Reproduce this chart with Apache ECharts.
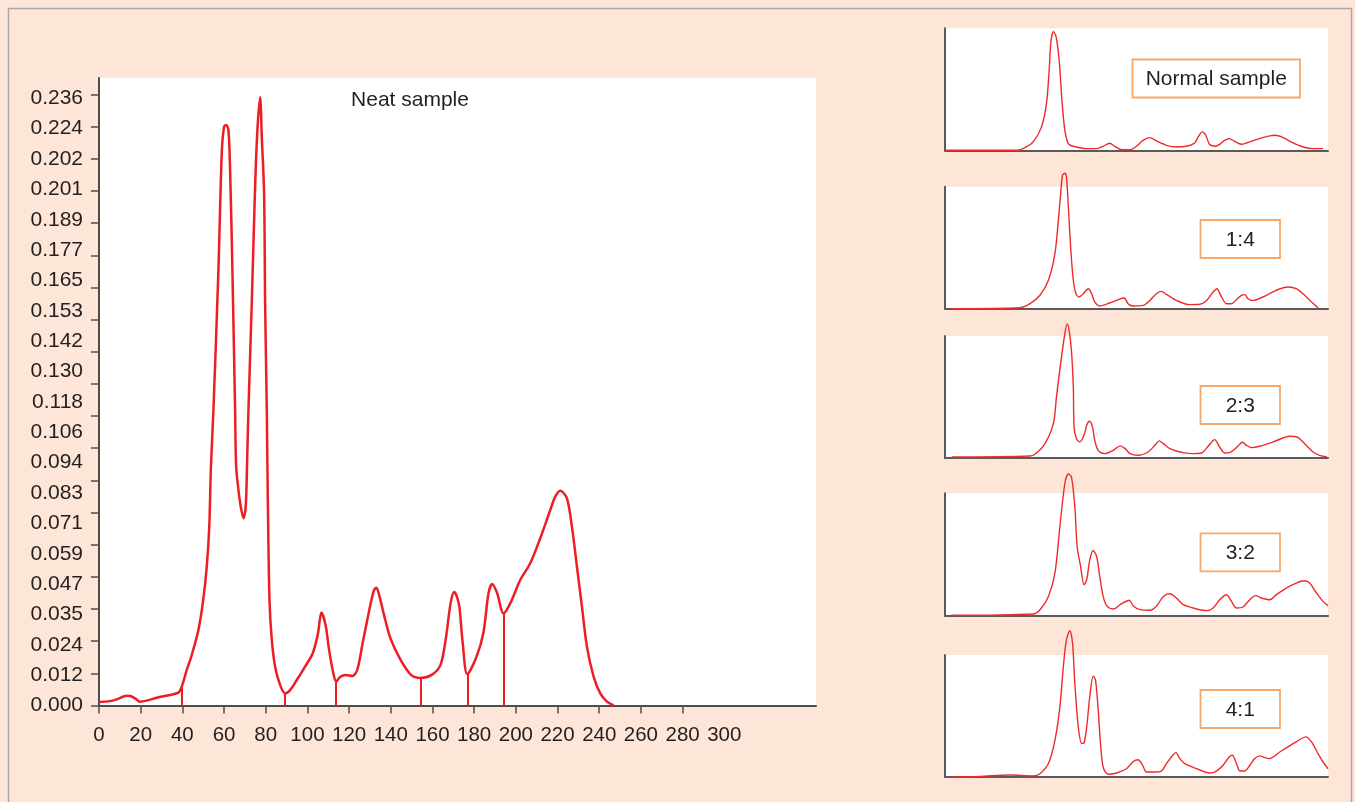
<!DOCTYPE html>
<html>
<head>
<meta charset="utf-8">
<script src="https://cdn.jsdelivr.net/npm/echarts@6.0.0/dist/echarts.min.js"></script>
<style>
html,body{margin:0;padding:0;background:#fde6d8;}
#chart{width:1355px;height:802px;}
</style>
</head>
<body>
<div id="chart"></div>
<script>
// ---- Main chart ("Neat sample") ----
const mainTitle = 'Neat sample';
const xTickLabels = [0,20,40,60,80,100,120,140,160,180,200,220,240,260,280,300];
const yTickLabels = ['0.000','0.012','0.024','0.035','0.047','0.059','0.071','0.083','0.094','0.106','0.118','0.130','0.142','0.153','0.165','0.177','0.189','0.201','0.202','0.224','0.236'];
const mainX = [0,5.3,8.5,13.3,14.9,17.3,19.7,22.9,27.7,34.1,
  38.1,39.7,42.1,44.5,47.7,50.0,51.7,52.9,53.7,54.9,
  57.3,58.9,60.0,61.0,62.1,62.9,64.0,65.3,65.8,66.9,
  68.0,69.3,70.4,71.2,71.7,73.3,74.9,76.0,77.3,78.1,
  79.2,79.7,80.5,81.0,81.8,82.9,84.5,86.9,89.3,91.7,
  94.9,98.5,102.6,105.1,106.7,108.7,110.4,112.3,113.8,115.7,
  118.3,121.6,123.9,126.5,128.7,130.7,132.0,133.1,134.4,136.5,
  139.8,144.7,149.7,154.2,159.6,163.8,166.3,168.7,170.4,171.6,
  172.9,174.5,176.7,181.1,184.4,186.9,188.6,191.0,194.1,197.3,
  202.1,206.9,211.7,216.5,218.9,221.3,224.5,226.9,229.3,231.7,
  234.1,237.3,240.5,243.7,246.9];
const mainY = [0.0014,0.0017,0.0024,0.0038,0.0037,0.0028,0.0015,0.0019,0.0030,0.0041,
  0.0050,0.0073,0.0138,0.0196,0.0293,0.0410,0.0540,0.0695,0.0928,0.1149,
  0.1693,0.2148,0.2250,0.2256,0.2237,0.2082,0.1693,0.1149,0.0928,0.0838,
  0.0773,0.0728,0.0773,0.0993,0.1149,0.1565,0.2017,0.2237,0.2364,0.2211,
  0.1991,0.1565,0.1149,0.0799,0.0410,0.0255,0.0151,0.0080,0.0047,0.0060,
  0.0099,0.0146,0.0204,0.0282,0.0361,0.0313,0.0216,0.0130,0.0093,0.0111,
  0.0119,0.0115,0.0138,0.0243,0.0332,0.0410,0.0449,0.0458,0.0430,0.0360,
  0.0262,0.0177,0.0119,0.0107,0.0119,0.0157,0.0255,0.0398,0.0441,0.0426,
  0.0383,0.0243,0.0122,0.0189,0.0282,0.0437,0.0472,0.0437,0.0358,0.0397,
  0.0488,0.0553,0.0650,0.0760,0.0812,0.0835,0.0805,0.0695,0.0540,0.0384,
  0.0229,0.0112,0.0047,0.0015,0.0];
// peak boundary (drop) lines
const dropX = [39.8, 89.3, 113.8, 154.2, 176.7, 194.1];
const dropY = [0.0070, 0.0047, 0.0093, 0.0107, 0.0122, 0.0358];

// ---- Small panels (relative position %, relative height %) ----
const panelNames = ['Normal sample','1:4','2:3','3:2','4:1'];
const p1X = [0,9.1,18.7,20.4,23.0,25.2,26.5,27.2,27.7,28.3,29.0,29.8,30.6,31.3,32.2,33.5,37.0,39.6,41.3,43.0,44.3,46.1,48.3,50.0,51.7,53.5,55.2,57.8,60.4,63.0,65.2,66.1,67.2,68.1,69.1,70.7,71.7,73.0,74.2,75.4,77.4,78.7,81.3,84.8,86.1,88.3,90.9,93.5,96.1,98.7];
const p1Y = [0,0,0,1.4,6.8,19.2,38.4,65.8,90.4,97.3,93.2,74.0,38.4,16.4,5.5,3.3,1.4,1.4,3.3,5.8,3.3,0.5,0.5,3.3,8.2,10.4,7.7,4.1,2.7,3.3,6.0,11.0,15.1,12.3,4.7,3.3,4.9,8.2,9.6,7.7,4.9,6.0,8.8,11.8,12.3,10.4,6.0,2.7,1.4,1.4];
const p2X = [1.7,19.6,22.2,24.8,27.0,28.7,29.6,30.2,30.7,31.3,31.7,32.2,32.8,33.5,34.2,35.0,36.1,37.4,38.3,39.1,40.4,43.0,45.2,46.8,47.8,49.1,51.7,53.5,55.2,56.5,57.8,60.4,63.9,66.5,68.3,70.0,71.0,72.2,73.5,74.8,76.1,77.4,78.3,79.1,80.4,83.0,86.5,89.6,91.7,93.9,95.7,97.4];
const p2Y = [0,0.8,4.1,11.0,23.3,45.2,72.6,94.5,109.6,111.0,108.2,83.6,50.7,23.3,12.3,9.6,12.3,16.4,12.3,5.5,2.2,4.7,7.4,8.8,4.1,2.2,2.7,6.8,12.3,14.2,11.8,6.8,3.3,3.6,6.8,13.7,16.4,9.6,4.1,4.1,7.4,11.0,11.5,8.2,6.8,9.6,15.1,17.8,16.4,11.0,5.5,0.8];
const p3X = [1.7,22.2,23.9,26.1,28.3,29.1,30.2,31.3,31.9,32.4,33.0,33.5,33.7,34.3,35.2,36.3,37.0,37.7,38.5,39.1,40.0,41.7,43.9,45.8,47.0,48.3,50.4,53.0,54.8,55.9,57.0,58.7,62.2,64.8,67.0,68.7,70.4,71.7,73.0,74.3,76.1,77.7,78.7,80.0,82.2,85.7,90.0,92.2,94.3,96.1,97.8,99.7];
const p3Y = [0.8,1.6,4.1,11.8,28.2,50.1,77.5,102.2,109.9,104.9,88.5,58.4,25.5,15.9,13.2,18.6,26.8,30.1,25.5,14.5,6.3,3.6,6.3,9.9,7.7,3.6,2.2,4.9,10.4,14.0,11.8,7.7,4.4,3.6,4.1,9.6,15.1,9.0,4.1,4.4,8.5,12.9,10.4,8.5,9.6,13.2,17.8,16.7,10.4,4.9,2.2,0.8];
const p4X = [1.7,23.0,24.8,27.0,28.7,30.0,31.3,32.2,33.0,33.9,34.5,35.4,36.3,37.0,37.8,38.7,39.6,40.4,41.3,42.2,43.9,46.1,48.1,49.1,50.9,53.5,55.2,57.0,58.7,60.4,62.2,65.7,68.3,70.0,71.7,73.5,74.8,76.1,77.8,79.6,81.1,82.6,84.8,86.5,89.1,91.7,93.9,95.2,97.0,98.7,100];
const p4Y = [0,1.1,4.6,15.5,34.6,72.8,108.2,115.8,113.6,89.1,56.4,40.1,25.1,29.2,45.5,53.1,48.2,31.9,15.5,7.9,5.2,9.5,12.3,7.9,4.6,4.1,7.4,15.5,17.7,14.2,8.7,5.2,3.8,6.0,12.8,16.9,11.4,6.0,6.8,12.8,16.1,14.2,12.8,16.9,22.3,26.4,28.3,26.4,18.3,11.4,7.9];
const p5X = [1.7,9.1,17.0,23.0,24.8,27.0,28.7,30.0,30.9,31.7,32.6,33.3,33.9,34.8,35.7,36.3,37.0,37.8,38.7,39.3,40.0,40.6,41.3,42.6,44.8,47.4,49.0,50.4,51.6,52.6,54.3,56.5,57.8,59.1,60.3,61.3,62.6,65.7,69.1,70.9,72.6,74.2,75.0,76.1,77.0,78.3,79.6,80.9,82.2,83.5,84.8,87.4,91.7,94.2,95.7,97.4,98.7,100];
const p5Y = [0,0.5,1.6,0.8,2.7,11.0,30.1,57.5,90.4,112.3,120.0,109.6,76.7,41.1,27.4,27.9,41.1,65.8,82.7,79.5,54.8,27.4,8.2,2.2,3.3,6.8,12.3,14.2,9.6,4.1,4.1,4.9,11.0,16.4,20.0,15.1,11.0,6.8,3.3,4.9,9.6,16.4,17.8,11.0,4.9,4.9,9.6,15.1,17.3,15.9,15.1,20.5,28.8,32.9,28.8,19.2,12.3,6.8];

// ---- build ----
const zip = (xs, ys) => xs.map((x, i) => [x, ys[i]]);
const RED = '#ee1d24';
const AXIS = '#4d4d4d';
const TXT = '#231f20';
const FONT = '"Liberation Sans", Arial, sans-serif';
const Y_STEP = 0.0118;

const panelX = [p1X, p2X, p3X, p4X, p5X];
const panelY = [p1Y, p2Y, p3Y, p4Y, p5Y];
const panelTop = [28.3, 186.7, 336, 493.3, 655];
const panelBoxes = [
  {x:1132.5, y:59.5, w:167.5, h:38},
  {x:1200.5, y:220, w:79.5, h:38},
  {x:1200.5, y:386, w:79.5, h:38},
  {x:1200.5, y:533.3, w:79.5, h:38},
  {x:1200.5, y:690, w:79.5, h:38}
];

const grids = [{left:99, top:78, width:717, height:627.5, show:true, backgroundColor:'#fff', borderWidth:0}];
const xAxes = [{
  type:'value', gridIndex:0, min:0, max:344,
  axisLine:{show:true, onZero:false, lineStyle:{color:AXIS, width:2}},
  axisTick:{show:true, length:8, lineStyle:{color:AXIS, width:1.5}, customValues: xTickLabels.filter(v => v <= 280)},
  axisLabel:{show:true, customValues: xTickLabels, margin:19, fontSize:20.5, color:TXT, fontFamily:FONT},
  splitLine:{show:false}
}];
const yAxes = [{
  type:'value', gridIndex:0, min:0, max:0.2439,
  axisLine:{show:true, onZero:false, lineStyle:{color:AXIS, width:2}},
  axisTick:{show:true, length:8, lineStyle:{color:AXIS, width:1.5}, customValues: Array.from({length:20}, (_, k) => k * 0.0125)},
  axisLabel:{show:true, customValues: yTickLabels.map((_, i) => i * Y_STEP), margin:16, fontSize:21, color:TXT, fontFamily:FONT,
    padding:[3,0,0,0],
    formatter: v => yTickLabels[Math.round(v / Y_STEP)]},
  splitLine:{show:false}
}];
const series = [{
  type:'line', xAxisIndex:0, yAxisIndex:0, data: zip(mainX, mainY),
  smooth:0.3, symbol:'none', clip:false,
  lineStyle:{color:RED, width:2.5},
  markLine:{
    silent:true, symbol:['none','none'], animation:false,
    label:{show:false},
    lineStyle:{color:RED, width:2, type:'solid'},
    data: dropX.map((x, i) => [{coord:[x, 0]}, {coord:[x, dropY[i]]}])
  }
}];

panelNames.forEach((name, i) => {
  const gi = i + 1;
  grids.push({left:945, top:panelTop[i], width:383, height:122, show:true, backgroundColor:'#fff', borderWidth:0});
  xAxes.push({type:'value', gridIndex:gi, min:0, max:100,
    axisLine:{show:true, lineStyle:{color:'#5a5a5a', width:2}}, axisTick:{show:false}, axisLabel:{show:false}, splitLine:{show:false}});
  yAxes.push({type:'value', gridIndex:gi, min:0, max:100,
    axisLine:{show:true, lineStyle:{color:'#5a5a5a', width:2}}, axisTick:{show:false}, axisLabel:{show:false}, splitLine:{show:false}});
  series.push({type:'line', xAxisIndex:gi, yAxisIndex:gi, data: zip(panelX[i], panelY[i]),
    smooth:0.3, symbol:'none', clip:false, lineStyle:{color:'#ee2b2b', width:1.4}, z:3});
});

const graphics = [
  {type:'rect', silent:true, z:-10, shape:{x:8.5, y:8.5, width:1343, height:820},
    style:{fill:'#fde6d8', stroke:'#a9a9a9', lineWidth:1.5}},
  {type:'text', x:410, y:100, z:10, style:{text:mainTitle, fontSize:21, fontFamily:FONT, fill:TXT, textAlign:'center', textVerticalAlign:'middle'}}
];
panelNames.forEach((name, i) => {
  const b = panelBoxes[i];
  graphics.push({type:'rect', z:10, shape:{x:b.x, y:b.y, width:b.w, height:b.h}, style:{fill:'#fff', stroke:'#f5a86c', lineWidth:1.8}});
  graphics.push({type:'text', z:11, x:b.x + b.w/2, y:b.y + b.h/2 + 1, style:{text:name, fontSize:21, fontFamily:FONT, fill:TXT, textAlign:'center', textVerticalAlign:'middle'}});
});

const chart = echarts.init(document.getElementById('chart'), null, {renderer:'canvas'});
chart.setOption({
  backgroundColor:'#fde6d8',
  animation:false,
  grid: grids,
  xAxis: xAxes,
  yAxis: yAxes,
  series: series,
  graphic: graphics
});
</script>
</body>
</html>
